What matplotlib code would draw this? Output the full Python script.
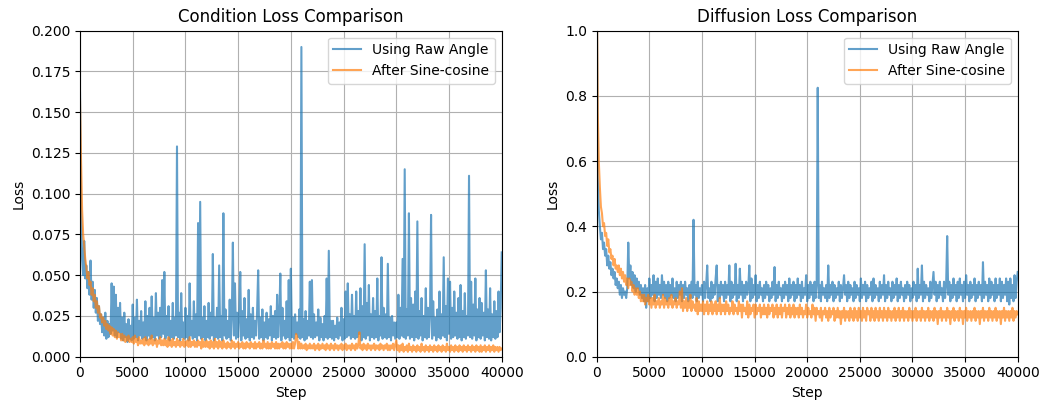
import numpy as np
import matplotlib
matplotlib.use("Agg")
import matplotlib.pyplot as plt

STEP = 100  # logging interval between the points below

LABELS = ["Using Raw Angle", "After Sine-cosine"]

# condition loss, raw angle (one row = 1000 steps)
cond_raw = [
    0.162, 0.092, 0.060, 0.050, 0.071, 0.048, 0.056, 0.042, 0.052, 0.038,
    0.059, 0.035, 0.046, 0.030, 0.041, 0.027, 0.036, 0.022, 0.031, 0.020,
    0.026, 0.015, 0.024, 0.013, 0.027, 0.011, 0.022, 0.012, 0.020, 0.014,
    0.045, 0.016, 0.043, 0.013, 0.038, 0.012, 0.030, 0.015, 0.033, 0.011,
    0.024, 0.010, 0.027, 0.012, 0.020, 0.009, 0.023, 0.011, 0.019, 0.010,
    0.032, 0.011, 0.024, 0.012, 0.035, 0.010, 0.022, 0.013, 0.028, 0.011,
    0.021, 0.012, 0.034, 0.010, 0.025, 0.013, 0.030, 0.011, 0.037, 0.012,
    0.024, 0.010, 0.039, 0.013, 0.027, 0.011, 0.030, 0.012, 0.047, 0.014,
    0.052, 0.011, 0.025, 0.013, 0.031, 0.010, 0.022, 0.012, 0.033, 0.011,
    0.024, 0.013, 0.129, 0.012, 0.027, 0.010, 0.039, 0.012, 0.021, 0.011,
    0.030, 0.012, 0.025, 0.010, 0.045, 0.013, 0.022, 0.011, 0.034, 0.012,
    0.026, 0.010, 0.082, 0.013, 0.095, 0.011, 0.024, 0.012, 0.031, 0.010,
    0.022, 0.012, 0.033, 0.011, 0.027, 0.013, 0.063, 0.010, 0.024, 0.012,
    0.030, 0.011, 0.056, 0.012, 0.025, 0.010, 0.088, 0.013, 0.029, 0.011,
    0.022, 0.012, 0.035, 0.010, 0.025, 0.070, 0.013, 0.045, 0.011, 0.027,
    0.012, 0.024, 0.052, 0.010, 0.028, 0.013, 0.036, 0.011, 0.023, 0.012,
    0.041, 0.010, 0.026, 0.012, 0.030, 0.011, 0.022, 0.013, 0.028, 0.053,
    0.011, 0.024, 0.012, 0.029, 0.010, 0.021, 0.012, 0.027, 0.011, 0.023,
    0.013, 0.031, 0.010, 0.025, 0.012, 0.028, 0.011, 0.038, 0.012, 0.024,
    0.051, 0.010, 0.030, 0.013, 0.022, 0.011, 0.034, 0.012, 0.047, 0.010,
    0.054, 0.012, 0.024, 0.011, 0.026, 0.014, 0.021, 0.012, 0.029, 0.011,
    0.190, 0.012, 0.023, 0.010, 0.028, 0.011, 0.022, 0.013, 0.046, 0.012,
    0.047, 0.011, 0.026, 0.012, 0.021, 0.013, 0.029, 0.010, 0.024, 0.012,
    0.020, 0.010, 0.025, 0.012, 0.048, 0.011, 0.065, 0.012, 0.022, 0.011,
    0.022, 0.010, 0.019, 0.012, 0.024, 0.011, 0.021, 0.013, 0.030, 0.010,
    0.023, 0.011, 0.040, 0.012, 0.045, 0.013, 0.026, 0.011, 0.038, 0.012,
    0.025, 0.011, 0.040, 0.012, 0.028, 0.014, 0.042, 0.010, 0.031, 0.012,
    0.069, 0.011, 0.033, 0.013, 0.044, 0.010, 0.026, 0.012, 0.036, 0.011,
    0.028, 0.012, 0.048, 0.010, 0.025, 0.013, 0.061, 0.011, 0.030, 0.012,
    0.026, 0.011, 0.057, 0.012, 0.024, 0.010, 0.025, 0.013, 0.021, 0.011,
    0.021, 0.012, 0.038, 0.011, 0.030, 0.013, 0.060, 0.012, 0.115, 0.011,
    0.029, 0.013, 0.088, 0.011, 0.036, 0.012, 0.032, 0.010, 0.040, 0.012,
    0.083, 0.011, 0.028, 0.013, 0.036, 0.010, 0.025, 0.012, 0.042, 0.011,
    0.030, 0.012, 0.026, 0.087, 0.011, 0.034, 0.013, 0.024, 0.010, 0.029,
    0.012, 0.040, 0.011, 0.026, 0.013, 0.061, 0.012, 0.031, 0.010, 0.048,
    0.014, 0.046, 0.011, 0.030, 0.012, 0.040, 0.013, 0.027, 0.011, 0.036,
    0.012, 0.044, 0.010, 0.028, 0.012, 0.039, 0.011, 0.025, 0.013, 0.111,
    0.012, 0.046, 0.011, 0.032, 0.013, 0.048, 0.010, 0.029, 0.012, 0.036,
    0.011, 0.033, 0.013, 0.027, 0.010, 0.053, 0.012, 0.029, 0.011, 0.042,
    0.010, 0.026, 0.012, 0.034, 0.011, 0.028, 0.012, 0.040, 0.015, 0.030,
    0.064,
]

# condition loss, sine-cosine encoding
cond_sc = [
    0.158, 0.120, 0.090, 0.075, 0.068, 0.060, 0.055, 0.048, 0.052, 0.044,
    0.046, 0.038, 0.042, 0.034, 0.038, 0.030, 0.034, 0.027, 0.031, 0.024,
    0.026, 0.021, 0.024, 0.019, 0.022, 0.017, 0.020, 0.016, 0.019, 0.014,
    0.018, 0.013, 0.017, 0.012, 0.016, 0.011, 0.015, 0.012, 0.014, 0.010,
    0.014, 0.010, 0.013, 0.009, 0.012, 0.010, 0.013, 0.009, 0.011, 0.009,
    0.012, 0.008, 0.013, 0.009, 0.011, 0.007, 0.012, 0.008, 0.010, 0.008,
    0.011, 0.007, 0.012, 0.008, 0.010, 0.007, 0.011, 0.008, 0.013, 0.007,
    0.010, 0.008, 0.011, 0.006, 0.010, 0.008, 0.012, 0.007, 0.010, 0.007,
    0.011, 0.007, 0.010, 0.006, 0.012, 0.007, 0.010, 0.006, 0.011, 0.007,
    0.009, 0.006, 0.011, 0.007, 0.010, 0.006, 0.009, 0.007, 0.011, 0.006,
    0.009, 0.007, 0.010, 0.006, 0.012, 0.006, 0.009, 0.007, 0.010, 0.006,
    0.009, 0.006, 0.010, 0.007, 0.009, 0.005, 0.011, 0.006, 0.009, 0.006,
    0.010, 0.006, 0.009, 0.005, 0.010, 0.006, 0.009, 0.005, 0.011, 0.006,
    0.009, 0.005, 0.010, 0.006, 0.009, 0.005, 0.010, 0.006, 0.008, 0.005,
    0.009, 0.006, 0.008, 0.005, 0.010, 0.006, 0.009, 0.005, 0.008, 0.006,
    0.009, 0.005, 0.008, 0.006, 0.009, 0.005, 0.008, 0.005, 0.009, 0.006,
    0.008, 0.005, 0.009, 0.006, 0.008, 0.005, 0.009, 0.005, 0.008, 0.006,
    0.009, 0.005, 0.008, 0.005, 0.010, 0.006, 0.008, 0.005, 0.009, 0.005,
    0.008, 0.005, 0.009, 0.006, 0.008, 0.005, 0.009, 0.005, 0.008, 0.005,
    0.008, 0.006, 0.009, 0.005, 0.008, 0.005, 0.009, 0.006, 0.008, 0.005,
    0.008, 0.005, 0.009, 0.005, 0.008, 0.014, 0.012, 0.005, 0.009, 0.005,
    0.008, 0.005, 0.007, 0.005, 0.008, 0.004, 0.007, 0.005, 0.008, 0.005,
    0.007, 0.005, 0.008, 0.004, 0.007, 0.005, 0.008, 0.004, 0.007, 0.005,
    0.008, 0.005, 0.007, 0.004, 0.008, 0.005, 0.007, 0.004, 0.008, 0.005,
    0.007, 0.004, 0.008, 0.005, 0.007, 0.004, 0.007, 0.005, 0.008, 0.004,
    0.007, 0.005, 0.008, 0.004, 0.007, 0.005, 0.007, 0.004, 0.008, 0.005,
    0.007, 0.004, 0.008, 0.005, 0.007, 0.015, 0.005, 0.007, 0.004, 0.008,
    0.005, 0.007, 0.004, 0.008, 0.005, 0.007, 0.004, 0.007, 0.005, 0.008,
    0.004, 0.007, 0.005, 0.007, 0.004, 0.008, 0.005, 0.007, 0.004, 0.007,
    0.005, 0.008, 0.004, 0.007, 0.004, 0.007, 0.005, 0.008, 0.004, 0.007,
    0.010, 0.004, 0.007, 0.003, 0.007, 0.004, 0.008, 0.003, 0.006, 0.004,
    0.007, 0.003, 0.008, 0.004, 0.006, 0.003, 0.007, 0.004, 0.006, 0.003,
    0.007, 0.004, 0.006, 0.003, 0.008, 0.004, 0.006, 0.003, 0.007, 0.004,
    0.006, 0.003, 0.007, 0.004, 0.006, 0.003, 0.007, 0.004, 0.006, 0.003,
    0.007, 0.004, 0.006, 0.003, 0.007, 0.004, 0.006, 0.003, 0.008, 0.004,
    0.006, 0.003, 0.007, 0.004, 0.006, 0.003, 0.007, 0.004, 0.006, 0.003,
    0.007, 0.004, 0.006, 0.003, 0.007, 0.004, 0.006, 0.003, 0.007, 0.004,
    0.006, 0.003, 0.007, 0.004, 0.006, 0.003, 0.007, 0.004, 0.006, 0.003,
    0.007, 0.003, 0.006, 0.004, 0.007, 0.003, 0.006, 0.004, 0.007, 0.003,
    0.006, 0.004, 0.007, 0.003, 0.006, 0.004, 0.006, 0.003, 0.006, 0.004,
    0.005,
]

# diffusion loss, raw angle
diff_raw = [
    1.20, 0.55, 0.45, 0.40, 0.36, 0.38, 0.33, 0.35, 0.31, 0.33,
    0.28, 0.31, 0.27, 0.29, 0.25, 0.27, 0.24, 0.26, 0.22, 0.24,
    0.21, 0.23, 0.19, 0.22, 0.18, 0.21, 0.19, 0.20, 0.18, 0.21,
    0.35, 0.24, 0.28, 0.22, 0.26, 0.21, 0.25, 0.20, 0.24, 0.21,
    0.23, 0.19, 0.22, 0.18, 0.21, 0.17, 0.22, 0.15, 0.21, 0.17,
    0.24, 0.18, 0.22, 0.19, 0.25, 0.17, 0.23, 0.18, 0.24, 0.19,
    0.22, 0.18, 0.25, 0.19, 0.23, 0.18, 0.22, 0.17, 0.23, 0.18,
    0.22, 0.19, 0.24, 0.18, 0.21, 0.17, 0.23, 0.18, 0.22, 0.19,
    0.23, 0.17, 0.22, 0.18, 0.23, 0.19, 0.21, 0.17, 0.22, 0.18,
    0.23, 0.18, 0.42, 0.19, 0.22, 0.17, 0.23, 0.18, 0.21, 0.19,
    0.22, 0.17, 0.23, 0.18, 0.22, 0.28, 0.18, 0.21, 0.17, 0.23,
    0.18, 0.22, 0.19, 0.24, 0.28, 0.17, 0.22, 0.18, 0.23, 0.19,
    0.22, 0.17, 0.23, 0.18, 0.22, 0.19, 0.28, 0.17, 0.23, 0.18,
    0.22, 0.19, 0.285, 0.17, 0.22, 0.18, 0.27, 0.19, 0.23, 0.17,
    0.22, 0.18, 0.23, 0.19, 0.21, 0.28, 0.17, 0.24, 0.18, 0.22,
    0.19, 0.25, 0.17, 0.22, 0.18, 0.23, 0.19, 0.21, 0.17, 0.22,
    0.18, 0.23, 0.19, 0.22, 0.17, 0.21, 0.18, 0.23, 0.19, 0.275,
    0.17, 0.22, 0.18, 0.23, 0.19, 0.21, 0.17, 0.22, 0.18, 0.23,
    0.19, 0.22, 0.17, 0.24, 0.18, 0.22, 0.19, 0.23, 0.17, 0.22,
    0.18, 0.24, 0.19, 0.22, 0.17, 0.23, 0.18, 0.21, 0.19, 0.25,
    0.17, 0.22, 0.18, 0.23, 0.19, 0.22, 0.17, 0.23, 0.18, 0.22,
    0.825, 0.18, 0.22, 0.17, 0.23, 0.19, 0.21, 0.18, 0.22, 0.17,
    0.28, 0.18, 0.22, 0.19, 0.23, 0.17, 0.22, 0.18, 0.21, 0.19,
    0.23, 0.17, 0.22, 0.18, 0.21, 0.25, 0.19, 0.22, 0.17, 0.23,
    0.18, 0.22, 0.19, 0.21, 0.17, 0.23, 0.18, 0.22, 0.19, 0.21,
    0.17, 0.24, 0.18, 0.22, 0.19, 0.23, 0.17, 0.22, 0.18, 0.21,
    0.19, 0.23, 0.17, 0.24, 0.18, 0.22, 0.19, 0.21, 0.17, 0.23,
    0.18, 0.22, 0.19, 0.25, 0.17, 0.22, 0.18, 0.23, 0.19, 0.21,
    0.17, 0.23, 0.18, 0.22, 0.19, 0.24, 0.17, 0.22, 0.18, 0.23,
    0.19, 0.21, 0.17, 0.22, 0.18, 0.23, 0.19, 0.22, 0.17, 0.21,
    0.18, 0.23, 0.19, 0.22, 0.17, 0.27, 0.18, 0.22, 0.19, 0.28,
    0.17, 0.23, 0.18, 0.22, 0.19, 0.21, 0.17, 0.23, 0.18, 0.22,
    0.26, 0.19, 0.23, 0.17, 0.22, 0.18, 0.23, 0.19, 0.21, 0.17,
    0.23, 0.18, 0.22, 0.37, 0.19, 0.23, 0.17, 0.22, 0.18, 0.24,
    0.19, 0.22, 0.17, 0.23, 0.18, 0.24, 0.19, 0.22, 0.17, 0.23,
    0.18, 0.25, 0.19, 0.22, 0.17, 0.23, 0.18, 0.22, 0.19, 0.24,
    0.17, 0.22, 0.18, 0.23, 0.19, 0.22, 0.17, 0.29, 0.18, 0.23,
    0.19, 0.22, 0.17, 0.24, 0.18, 0.23, 0.19, 0.22, 0.17, 0.24,
    0.18, 0.22, 0.19, 0.24, 0.17, 0.23, 0.18, 0.22, 0.19, 0.24,
    0.17, 0.23, 0.16, 0.24, 0.18, 0.22, 0.17, 0.25, 0.18, 0.23,
    0.26,
]

# diffusion loss, sine-cosine encoding
diff_sc = [
    1.20, 0.75, 0.60, 0.52, 0.46, 0.44, 0.40, 0.41, 0.37, 0.38,
    0.34, 0.36, 0.32, 0.33, 0.30, 0.31, 0.28, 0.30, 0.27, 0.28,
    0.26, 0.28, 0.25, 0.27, 0.24, 0.26, 0.23, 0.25, 0.22, 0.24,
    0.21, 0.24, 0.22, 0.23, 0.20, 0.22, 0.19, 0.21, 0.19, 0.21,
    0.18, 0.20, 0.17, 0.19, 0.17, 0.19, 0.16, 0.18, 0.17, 0.19,
    0.16, 0.18, 0.15, 0.18, 0.16, 0.19, 0.15, 0.17, 0.16, 0.18,
    0.15, 0.17, 0.16, 0.19, 0.15, 0.18, 0.16, 0.17, 0.15, 0.18,
    0.16, 0.19, 0.15, 0.17, 0.16, 0.18, 0.15, 0.17, 0.16, 0.20,
    0.15, 0.21, 0.14, 0.17, 0.15, 0.18, 0.14, 0.17, 0.15, 0.19,
    0.14, 0.17, 0.15, 0.16, 0.14, 0.18, 0.13, 0.17, 0.14, 0.16,
    0.14, 0.17, 0.13, 0.16, 0.14, 0.17, 0.13, 0.16, 0.14, 0.17,
    0.13, 0.16, 0.14, 0.17, 0.13, 0.16, 0.14, 0.18, 0.13, 0.16,
    0.14, 0.16, 0.13, 0.17, 0.14, 0.16, 0.13, 0.15, 0.14, 0.17,
    0.13, 0.16, 0.14, 0.15, 0.13, 0.17, 0.14, 0.16, 0.12, 0.16,
    0.14, 0.15, 0.13, 0.17, 0.12, 0.16, 0.13, 0.15, 0.14, 0.16,
    0.12, 0.16, 0.13, 0.15, 0.14, 0.16, 0.12, 0.15, 0.13, 0.16,
    0.13, 0.15, 0.12, 0.16, 0.13, 0.15, 0.14, 0.16, 0.12, 0.15,
    0.13, 0.16, 0.12, 0.15, 0.13, 0.16, 0.12, 0.15, 0.14, 0.16,
    0.12, 0.15, 0.13, 0.16, 0.12, 0.15, 0.13, 0.16, 0.12, 0.15,
    0.13, 0.15, 0.12, 0.16, 0.13, 0.15, 0.12, 0.14, 0.13, 0.16,
    0.12, 0.15, 0.13, 0.14, 0.12, 0.16, 0.13, 0.15, 0.11, 0.15,
    0.13, 0.14, 0.12, 0.15, 0.11, 0.14, 0.13, 0.15, 0.12, 0.14,
    0.11, 0.15, 0.12, 0.14, 0.13, 0.15, 0.11, 0.14, 0.12, 0.15,
    0.12, 0.14, 0.10, 0.14, 0.12, 0.15, 0.11, 0.14, 0.12, 0.14,
    0.11, 0.15, 0.12, 0.14, 0.11, 0.15, 0.12, 0.14, 0.11, 0.15,
    0.12, 0.14, 0.11, 0.15, 0.12, 0.14, 0.11, 0.15, 0.13, 0.14,
    0.11, 0.15, 0.12, 0.14, 0.11, 0.15, 0.12, 0.14, 0.11, 0.15,
    0.12, 0.14, 0.11, 0.15, 0.12, 0.14, 0.11, 0.15, 0.12, 0.14,
    0.11, 0.14, 0.12, 0.15, 0.11, 0.14, 0.12, 0.15, 0.11, 0.14,
    0.12, 0.15, 0.11, 0.14, 0.12, 0.14, 0.11, 0.15, 0.12, 0.14,
    0.11, 0.14, 0.12, 0.15, 0.11, 0.14, 0.12, 0.14, 0.11, 0.15,
    0.12, 0.14, 0.11, 0.14, 0.12, 0.15, 0.11, 0.14, 0.12, 0.14,
    0.11, 0.15, 0.12, 0.14, 0.10, 0.14, 0.12, 0.15, 0.11, 0.14,
    0.12, 0.14, 0.11, 0.15, 0.12, 0.14, 0.10, 0.14, 0.12, 0.15,
    0.11, 0.14, 0.12, 0.14, 0.11, 0.15, 0.12, 0.14, 0.10, 0.14,
    0.12, 0.15, 0.11, 0.14, 0.12, 0.14, 0.11, 0.14, 0.12, 0.15,
    0.11, 0.14, 0.12, 0.14, 0.10, 0.14, 0.12, 0.15, 0.11, 0.14,
    0.12, 0.14, 0.11, 0.15, 0.12, 0.14, 0.11, 0.14, 0.12, 0.15,
    0.11, 0.14, 0.12, 0.14, 0.10, 0.14, 0.12, 0.15, 0.11, 0.14,
    0.12, 0.14, 0.11, 0.14, 0.12, 0.15, 0.11, 0.14, 0.12, 0.14,
    0.13,
]


def _steps(values):
    return np.arange(len(values)) * STEP


def _plot_panel(ax, raw, sc, title, ylim):
    ax.plot(_steps(raw), raw, label=LABELS[0], alpha=0.7)
    ax.plot(_steps(sc), sc, label=LABELS[1], alpha=0.7)
    ax.set_title(title)
    ax.set_xlabel("Step")
    ax.set_ylabel("Loss")
    ax.set_xlim(0, 40000)
    ax.set_ylim(*ylim)
    ax.grid(True)
    ax.legend(loc="upper right")


fig = plt.figure(figsize=(10.44, 4.03), dpi=100)
ax1 = fig.add_axes([80 / 1044, 46.3 / 403, 421.7 / 1044, 326 / 403])
ax2 = fig.add_axes([596.7 / 1044, 46.3 / 403, 421 / 1044, 326 / 403])

_plot_panel(ax1, cond_raw, cond_sc, "Condition Loss Comparison", (0, 0.2))
_plot_panel(ax2, diff_raw, diff_sc, "Diffusion Loss Comparison", (0, 1.0))

fig.savefig("out.png", dpi=100)
